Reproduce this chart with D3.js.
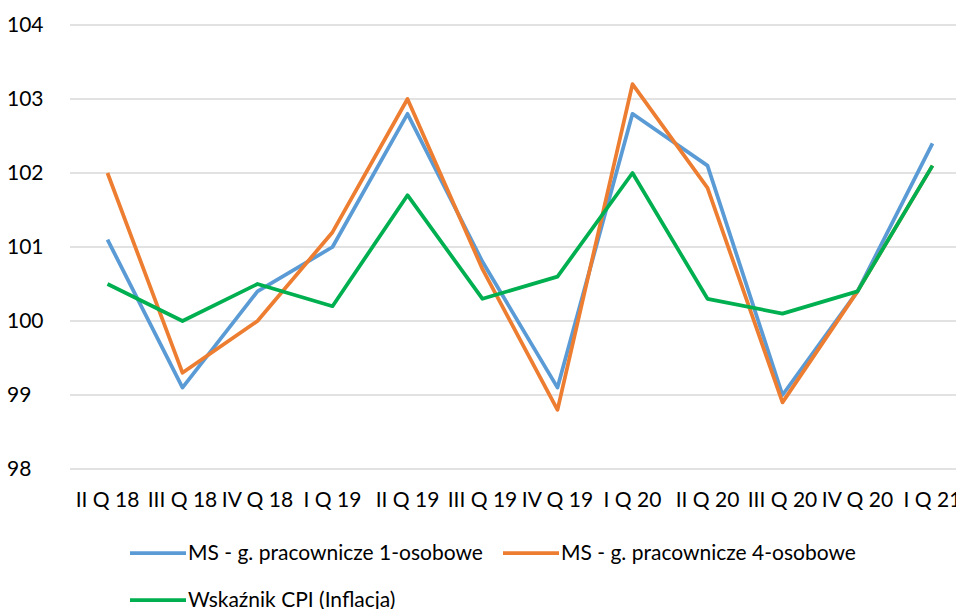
<!DOCTYPE html>
<style>
    body { margin: 0; background: #fff; }
    text { font-family: Lato, "Open Sans", sans-serif; font-size: 21px; fill: #000; }
</style>
<svg width="956" height="609"></svg>
<script src="https://d3js.org/d3.v7.min.js"></script>
<script>
    var quarters = ["II Q 18", "III Q 18", "IV Q 18", "I Q 19", "II Q 19", "III Q 19",
                    "IV Q 19", "I Q 20", "II Q 20", "III Q 20", "IV Q 20", "I Q 21"];
    var ms1 = [101.1, 99.1, 100.4, 101.0, 102.8, 100.8, 99.1, 102.8, 102.1, 99.0, 100.4, 102.4];
    var ms4 = [102.0, 99.3, 100.0, 101.2, 103.0, 100.7, 98.8, 103.2, 101.8, 98.9, 100.4, 102.1];
    var cpi = [100.5, 100.0, 100.5, 100.2, 101.7, 100.3, 100.6, 102.0, 100.3, 100.1, 100.4, 102.1];
    var yTicks = [98, 99, 100, 101, 102, 103, 104];

    var series = [
        {name: "MS - g. pracownicze 1-osobowe", values: ms1, color: "#5B9BD5"},
        {name: "MS - g. pracownicze 4-osobowe", values: ms4, color: "#ED7D31"},
        {name: "Wskaźnik CPI (Inflacja)", values: cpi, color: "#00B050"}
    ];

    var svg = d3.select('svg');

    var x = d3.scaleBand().domain(quarters).range([70, 970]);
    var y = d3.scaleLinear().domain([98, 104]).range([469, 25]);

    // gridlines
    svg.append('g').selectAll('line')
        .data(yTicks)
        .enter().append('line')
        .attr('x1', 70).attr('x2', 956)
        .attr('y1', function(d) { return y(d); })
        .attr('y2', function(d) { return y(d); })
        .attr('stroke', '#d9d9d9')
        .attr('stroke-width', 1.5);

    // y labels
    svg.append('g').selectAll('text')
        .data(yTicks)
        .enter().append('text')
        .attr('x', 7)
        .attr('y', function(d) { return y(d); })
        .attr('dy', '0.35em')
        .text(function(d) { return d; });

    // x labels
    svg.append('g').selectAll('text')
        .data(quarters)
        .enter().append('text')
        .attr('x', function(d) { return x(d) + x.bandwidth() / 2; })
        .attr('y', 500)
        .attr('dy', '0.35em')
        .attr('text-anchor', 'middle')
        .text(function(d) { return d; });

    var line = d3.line()
        .x(function(d, i) { return x(quarters[i]) + x.bandwidth() / 2; })
        .y(function(d) { return y(d); });

    svg.append('g').selectAll('path')
        .data(series)
        .enter().append('path')
        .attr('d', function(d) { return line(d.values); })
        .attr('fill', 'none')
        .attr('stroke', function(d) { return d.color; })
        .attr('stroke-width', 3.75)
        .attr('stroke-linejoin', 'round');

    // legend
    var legendPos = [[130, 553], [503, 553], [130, 600]];
    var leg = svg.append('g').selectAll('g')
        .data(series)
        .enter().append('g')
        .attr('transform', function(d, i) { return 'translate(' + legendPos[i][0] + ',' + legendPos[i][1] + ')'; });
    leg.append('line')
        .attr('x1', 0).attr('x2', 56)
        .attr('stroke', function(d) { return d.color; })
        .attr('stroke-width', 3.75);
    leg.append('text')
        .attr('x', 58)
        .attr('dy', '0.35em')
        .text(function(d) { return d.name; });
</script>
